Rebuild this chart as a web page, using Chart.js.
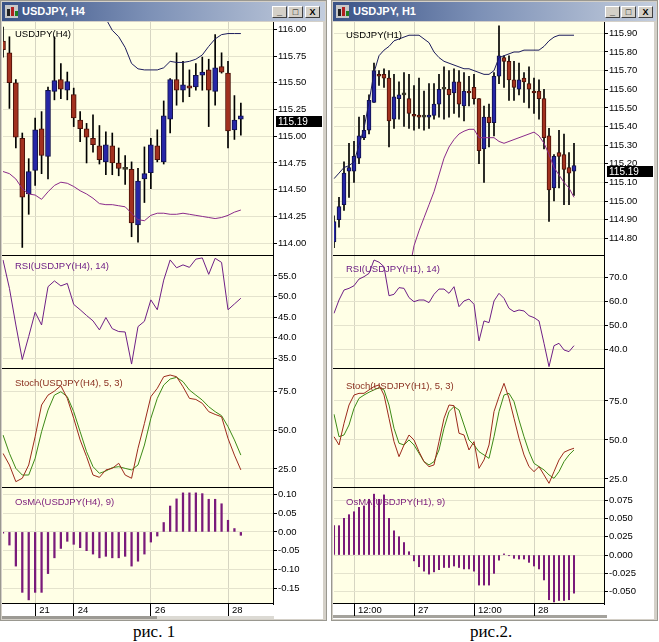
<!DOCTYPE html>
<html>
<head>
<meta charset="utf-8">
<title>USDJPY H4 / H1</title>
<script src="https://cdn.jsdelivr.net/npm/chart.js@4.4.1/dist/chart.umd.min.js"></script>
<style>
  body { margin: 0; width: 659px; height: 642px; background: #fff; position: relative; overflow: hidden; }
  .win { position: absolute; top: 0; width: 327px; height: 621px; background: #d4d0c8; box-sizing: border-box; border: 1px solid #9a9890; }
  .client { position: absolute; left: 1px; top: 21px; width: 321px; height: 597px; background: #fff; }
  .title { position: absolute; left: 1px; top: 1px; width: 323px; height: 19px;
           background: linear-gradient(90deg, #3a5286 0%, #7c90b6 45%, #c3cddd 100%); }
  .title .t { position: absolute; left: 20px; top: 3px; color: #fff; font: bold 11px "Liberation Sans", Arial, sans-serif; }
  .icon { position: absolute; left: 3px; top: 3px; width: 13px; height: 13px; background: #c8c8c8; }
  .icon i { position: absolute; bottom: 2px; width: 3px; }
  .btn { position: absolute; top: 4px; width: 15px; height: 12px; box-sizing: border-box; background: #d4d0c8;
         border: 1px solid; border-color: #fff #404040 #404040 #fff; font: bold 9px "Liberation Sans", Arial; color: #000;
         text-align: center; line-height: 10px; }
  .lbl { position: absolute; z-index: 5; font: 9.5px "Liberation Sans", Arial, sans-serif; white-space: nowrap; line-height: 11px; }
  .cap { position: absolute; top: 622px; font: 17px "Liberation Serif", "Times New Roman", serif; color: #000; }
  .scr { position: absolute; height: 3px; }
</style>
</head>
<body>

<div class="win" style="left:0px">
  <div class="title">
    <div class="icon"><i style="left:2px;height:7px;background:#222"></i><i style="left:6px;height:9px;background:#b02020"></i><i style="left:10px;height:5px;background:#208020"></i></div>
    <div class="t">USDJPY, H4</div>
    <div class="btn" style="left:270px">_</div>
    <div class="btn" style="left:286px">&#9633;</div>
    <div class="btn" style="left:303px">X</div>
  </div>
  <div class="client"></div>
</div>

<div class="win" style="left:331px">
  <div class="title">
    <div class="icon"><i style="left:2px;height:7px;background:#222"></i><i style="left:6px;height:9px;background:#b02020"></i><i style="left:10px;height:5px;background:#208020"></i></div>
    <div class="t">USDJPY, H1</div>
    <div class="btn" style="left:272px">_</div>
    <div class="btn" style="left:288px">&#9633;</div>
    <div class="btn" style="left:305px">X</div>
  </div>
  <div class="client"></div>
</div>

<div class="scr" style="left:2px;top:616px;width:155px;background:#9c9a94"></div>
<div class="scr" style="left:157px;top:616px;width:117px;background:#dcdad4"></div>
<div class="scr" style="left:333px;top:615px;width:274px;background:#a4a29c"></div>

<div class="cap" style="left:133px">рис. 1</div>
<div class="cap" style="left:470px">рис.2.</div>

<script>
// ---------- H4 window (left) ----------
const h4Slots = 43;
const h4DayIdx = [5, 11, 23, 35];
const h4DayTxt = ['21', '24', '26', '28'];

const h4Open = [115.89, 115.78, 115.50, 114.98, 114.46, 114.68, 115.07, 114.81, 115.42, 115.53,
  115.43, 115.39, 115.15, 115.07, 114.98, 114.91, 114.76, 114.91, 114.75, 114.69,
  114.69, 114.17, 114.60, 114.66, 114.91, 114.76, 115.16, 115.53, 115.43, 115.47,
  115.46, 115.57, 115.62, 115.42, 115.65, 115.59, 115.06, 115.16];
const h4High = [116.02, 115.93, 115.53, 115.03, 114.79, 115.17, 115.23, 115.46, 115.93, 115.68,
  115.60, 115.45, 115.23, 115.12, 115.20, 115.10, 115.04, 115.03, 114.89, 114.82,
  114.76, 114.70, 114.90, 114.98, 115.06, 115.33, 115.54, 115.78, 115.70, 115.62,
  115.68, 115.74, 115.72, 115.95, 115.78, 115.70, 115.38, 115.31];
const h4Low = [115.74, 115.26, 114.89, 113.96, 114.27, 114.54, 114.65, 114.60, 115.34, 115.35,
  115.34, 115.09, 114.95, 114.75, 114.85, 114.74, 114.64, 114.64, 114.63, 114.55,
  114.06, 114.01, 114.38, 114.51, 114.76, 114.74, 115.03, 115.29, 115.32, 115.37,
  115.43, 115.43, 115.09, 115.29, 115.59, 114.89, 114.97, 115.01];
const h4Close = [115.81, 115.50, 114.99, 114.43, 114.67, 115.06, 114.82, 115.43, 115.52, 115.44,
  115.51, 115.17, 115.07, 114.99, 114.92, 114.78, 114.92, 114.75, 114.70, 114.69,
  114.19, 114.58, 114.65, 114.92, 114.78, 115.19, 115.53, 115.43, 115.48, 115.45,
  115.57, 115.60, 115.43, 115.64, 115.60, 115.05, 115.15, 115.19];
const h4Upper = [null, null, null, null, null, null, null, null, null, null,
  null, null, null, null, null, null, 116.10, 115.99, 115.93, 115.83,
  115.68, 115.63, 115.62, 115.62, 115.62, 115.64, 115.70, 115.69, 115.69, 115.70,
  115.72, 115.76, 115.84, 115.91, 115.95, 115.96, 115.96, 115.96];
const h4Lower = [114.67, 114.65, 114.60, 114.51, 114.46, 114.45, 114.41, 114.48, 114.54, 114.57,
  114.56, 114.53, 114.49, 114.46, 114.42, 114.37, 114.36, 114.36, 114.35, 114.34,
  114.28, 114.22, 114.21, 114.26, 114.28, 114.28, 114.27, 114.27, 114.28, 114.27,
  114.26, 114.25, 114.24, 114.23, 114.24, 114.26, 114.29, 114.31];
const h4Rsi = [58.9, 52.0, 43.1, 34.7, 40.3, 46.2, 43.1, 52.4, 53.8, 52.6,
  53.2, 48.1, 46.8, 45.4, 44.1, 41.9, 44.9, 42.2, 41.5, 41.4,
  33.6, 42.7, 44.0, 49.2, 46.8, 54.0, 58.9, 57.0, 57.7, 57.1,
  59.1, 59.4, 55.4, 59.3, 58.3, 46.8, 48.2, 49.6];
const h4StochK = [35.1, 27.6, 16.8, 19.0, 27.6, 45.9, 66.4, 72.8, 75.4, 78.9,
  70.7, 57.8, 43.8, 33.0, 21.1, 19.6, 24.4, 25.4, 28.7, 21.1,
  19.0, 38.4, 54.5, 71.8, 77.2, 84.7, 85.8, 84.7, 78.2, 70.7,
  70.0, 67.5, 62.1, 60.3, 58.8, 44.8, 34.0, 24.4];
const h4StochD = [47.0, 35.1, 25.4, 21.1, 21.1, 31.9, 49.1, 63.1, 72.8, 75.0,
  71.8, 62.1, 49.1, 36.2, 26.5, 22.2, 23.7, 25.9, 26.5, 25.4,
  24.4, 27.6, 40.5, 57.8, 70.7, 79.3, 83.2, 84.3, 81.5, 76.1,
  72.8, 69.6, 65.3, 62.1, 59.5, 52.4, 43.8, 34.0];
const h4Osma = [-0.003, -0.035, -0.091, -0.161, -0.181, -0.161, -0.161, -0.111, -0.069, -0.044,
  -0.025, -0.033, -0.042, -0.050, -0.059, -0.069, -0.065, -0.069, -0.069, -0.065,
  -0.091, -0.078, -0.059, -0.027, -0.011, 0.025, 0.069, 0.088, 0.104, 0.104,
  0.104, 0.102, 0.087, 0.087, 0.075, 0.031, 0.009, -0.009];

// ---------- H1 window (right) ----------
const h1Slots = 55;
const h1DayIdx = [4, 16, 28, 40];
const h1DayTxt = ['12:00', '27', '12:00', '28'];

const h1Open = [114.78, 114.90, 114.98, 115.16, 115.16, 115.23, 115.34, 115.38, 115.53, 115.68,
  115.68, 115.66, 115.44, 115.55, 115.57, 115.55, 115.46, 115.455, 115.45, 115.45,
  115.46, 115.52, 115.60, 115.60, 115.58, 115.64, 115.51, 115.59, 115.61, 115.55,
  115.28, 115.45, 115.42, 115.67, 115.77, 115.75, 115.65, 115.60, 115.66, 115.63,
  115.59, 115.59, 115.55, 115.35, 115.07, 115.26, 115.25, 115.18, 115.16];
const h1High = [114.92, 115.02, 115.21, 115.31, 115.32, 115.45, 115.46, 115.57, 115.74, 115.70,
  115.71, 115.70, 115.68, 115.64, 115.69, 115.68, 115.62, 115.66, 115.59, 115.63,
  115.63, 115.68, 115.72, 115.70, 115.71, 115.70, 115.69, 115.67, 115.68, 115.55,
  115.51, 115.52, 115.69, 115.94, 115.78, 115.78, 115.75, 115.74, 115.69, 115.72,
  115.66, 115.65, 115.60, 115.39, 115.25, 115.38, 115.36, 115.26, 115.31];
const h1Low = [114.75, 114.86, 114.95, 115.02, 115.10, 115.20, 115.33, 115.36, 115.53, 115.62,
  115.61, 115.29, 115.39, 115.44, 115.40, 115.39, 115.38, 115.39, 115.38, 115.39,
  115.44, 115.45, 115.44, 115.45, 115.47, 115.45, 115.43, 115.51, 115.52, 115.20,
  115.10, 115.29, 115.35, 115.63, 115.61, 115.54, 115.54, 115.57, 115.53, 115.50,
  115.47, 115.44, 115.28, 114.89, 115.00, 115.07, 114.98, 114.98, 115.03];
const h1Close = [114.89, 114.97, 115.15, 115.18, 115.24, 115.35, 115.38, 115.54, 115.70, 115.67,
  115.66, 115.43, 115.56, 115.57, 115.57, 115.47, 115.455, 115.45, 115.45, 115.46,
  115.52, 115.60, 115.60, 115.57, 115.64, 115.52, 115.59, 115.58, 115.55, 115.27,
  115.45, 115.42, 115.67, 115.78, 115.75, 115.65, 115.61, 115.65, 115.64, 115.60,
  115.58, 115.55, 115.34, 115.06, 115.24, 115.24, 115.17, 115.15, 115.19];
const h1Upper = [115.12, 115.15, 115.18, 115.19, 115.21, 115.30, 115.39, 115.53, 115.69, 115.78,
  115.81, 115.83, 115.86, 115.87, 115.88, 115.89, 115.89, 115.89, 115.87, 115.85,
  115.80, 115.77, 115.75, 115.74, 115.73, 115.72, 115.71, 115.71, 115.70, 115.69,
  115.68, 115.68, 115.70, 115.77, 115.78, 115.79, 115.80, 115.80, 115.81, 115.81,
  115.81, 115.81, 115.83, 115.86, 115.88, 115.89, 115.89, 115.89, 115.89];
const h1Lower = [null, null, null, null, null, null, null, null, null, null,
  null, null, null, null, null, 114.62, 114.76, 114.84, 114.91, 114.98,
  115.05, 115.14, 115.23, 115.29, 115.33, 115.36, 115.375, 115.385, 115.385, 115.34,
  115.34, 115.34, 115.34, 115.32, 115.31, 115.32, 115.33, 115.34, 115.35, 115.36,
  115.37, 115.35, 115.31, 115.25, 115.18, 115.14, 115.10, 115.07, 115.02];
const h1Rsi = [55.0, 60.6, 64.8, 65.5, 66.6, 69.4, 70.4, 71.8, 77.4, 76.5,
  74.6, 62.4, 63.0, 65.8, 65.5, 61.6, 59.9, 60.6, 60.6, 59.5,
  63.0, 65.2, 65.2, 63.4, 66.2, 57.8, 60.2, 61.0, 58.8, 43.4,
  51.8, 51.1, 60.2, 63.4, 61.3, 57.1, 55.7, 56.4, 56.0, 54.0,
  53.2, 51.8, 42.4, 32.6, 41.4, 42.4, 39.6, 38.9, 41.4];
const h1StochK = [52.1, 46.8, 60.7, 72.4, 78.8, 79.9, 79.9, 82.1, 84.2, 85.3,
  78.8, 63.9, 48.9, 39.3, 46.8, 53.2, 50.0, 42.5, 36.1, 32.9,
  34.0, 48.9, 63.9, 72.4, 72.0, 54.3, 53.2, 43.6, 48.9, 31.8,
  37.2, 46.8, 68.2, 77.8, 86.3, 76.7, 63.9, 51.1, 40.4, 32.9,
  29.7, 32.9, 27.6, 22.2, 29.7, 37.2, 42.1, 43.6, 44.7];
const h1StochD = [66.5, 52.1, 53.2, 59.6, 70.3, 76.7, 78.8, 80.6, 82.1, 83.5,
  82.1, 72.4, 57.5, 47.9, 46.8, 50.0, 46.8, 41.5, 36.1, 34.0,
  36.1, 43.6, 57.5, 68.2, 71.4, 69.2, 59.6, 50.0, 46.8, 42.5,
  40.4, 38.2, 52.1, 68.2, 78.8, 79.9, 74.6, 62.8, 52.1, 42.5,
  35.0, 32.9, 30.8, 27.6, 25.4, 29.7, 36.1, 40.4, 43.6];
const h1Osma = [0.040, 0.040, 0.050, 0.055, 0.059, 0.065, 0.067, 0.076, 0.083, 0.076,
  0.082, 0.050, 0.033, 0.025, 0.017, 0.0045, -0.008, -0.016, -0.022, -0.026,
  -0.023, -0.020, -0.017, -0.017, -0.015, -0.017, -0.019, -0.019, -0.022, -0.041,
  -0.041, -0.041, -0.025, -0.007, 0.0015, -0.001, -0.0045, -0.0055, -0.0055, -0.010,
  -0.015, -0.019, -0.034, -0.061, -0.064, -0.062, -0.062, -0.061, -0.052];

// ---------- styles ----------
const PLOT_BG = '#ffffe6';
const GRID_H = '#e4e3cd';
const GRID_V = '#d6d5c2';
const UP = '#2626a6', UP_EDGE = '#10104a';
const DN = '#a2311f', DN_EDGE = '#4a1008';
const UPPER_C = '#1c1c5c', LOWER_C = '#8a2a8a';
const RSI_C = '#6e1f86', K_C = '#9c2a1c', D_C = '#3d8a16', OSMA_C = '#7a1a7a';

Chart.defaults.font.family = '"Liberation Sans", Arial, sans-serif';
Chart.defaults.font.size = 9.5;
Chart.defaults.color = '#000';

function slotLabels(count, idx, txt) {
  const a = new Array(count).fill('');
  idx.forEach((k, j) => { a[k] = txt[j]; });
  return a;
}

const plotFrame = {
  id: 'plotFrame',
  beforeDraw(chart) {
    const { ctx, chartArea: a } = chart;
    ctx.save();
    ctx.fillStyle = PLOT_BG;
    ctx.fillRect(0, a.top, a.right, a.height);
    ctx.restore();
  },
  afterDraw(chart) {
    const { ctx, chartArea: a } = chart;
    ctx.save();
    ctx.strokeStyle = '#000';
    ctx.lineWidth = 1;
    ctx.beginPath();
    ctx.moveTo(0, a.bottom - 0.5);
    ctx.lineTo(a.right, a.bottom - 0.5);
    ctx.stroke();
    ctx.restore();
  }
};

function priceTag(value) {
  return {
    id: 'priceTag',
    afterDraw(chart) {
      const { ctx, chartArea: a } = chart;
      const y = Math.round(chart.scales.y.getPixelForValue(value));
      ctx.save();
      ctx.fillStyle = '#000';
      ctx.fillRect(a.right + 3, y, 46, 11);
      ctx.fillStyle = '#fff';
      ctx.font = '10px "Liberation Sans", Arial, sans-serif';
      ctx.textBaseline = 'middle';
      ctx.fillText(value.toFixed(2), a.right + 5, y + 6);
      ctx.restore();
    }
  };
}

function xAxis(showX) {
  const isDay = ctx => ctx.tick && ctx.tick.label;
  return {
    type: 'category',
    offset: false,
    grid: {
      offset: false,
      color: ctx => isDay(ctx) ? GRID_V : 'rgba(0,0,0,0)',
      drawTicks: showX,
      tickLength: 12,
      tickColor: ctx => isDay(ctx) ? '#000' : 'rgba(0,0,0,0)'
    },
    border: { display: false },
    ticks: { display: showX, autoSkip: false, maxRotation: 0, align: 'start', labelOffset: 4, padding: -11, color: '#000' },
    afterFit: s => { s.height = showX ? 15 : 0; s.paddingLeft = 0; s.paddingRight = 0; }
  };
}

function yAxis(min, max, step, digits) {
  return {
    position: 'right',
    min: min,
    max: max,
    grid: { color: GRID_H, tickLength: 4, tickColor: '#000' },
    border: { display: true, color: '#000' },
    ticks: {
      stepSize: step, includeBounds: false, maxTicksLimit: 30, autoSkip: false,
      padding: 1, color: '#000', callback: v => v.toFixed(digits)
    },
    afterFit: s => { s.width = 50; s.paddingTop = 0; s.paddingBottom = 0; }
  };
}

function options(showX, y) {
  return {
    responsive: false,
    animation: false,
    events: [],
    layout: { padding: { left: 1, right: 0, top: 0, bottom: 0 } },
    plugins: { legend: { display: false }, tooltip: { enabled: false } },
    scales: { x: xAxis(showX), y: yAxis(y[0], y[1], y[2], y[3]) }
  };
}

function canvasAt(x, y, h) {
  const c = document.createElement('canvas');
  c.width = 321;
  c.height = h;
  c.style.position = 'absolute';
  c.style.left = x + 'px';
  c.style.top = y + 'px';
  document.body.appendChild(c);
  return c;
}

function label(x, y, text, color) {
  const d = document.createElement('div');
  d.className = 'lbl';
  d.style.left = x + 'px';
  d.style.top = y + 'px';
  d.style.color = color;
  d.textContent = text;
  document.body.appendChild(d);
}

function candleSets(o, h, l, c, bodyW) {
  const flat = i => Math.abs(c[i] - o[i]) < 0.004;
  return [
    {
      type: 'bar', order: 2, grouped: false, barThickness: bodyW, minBarLength: 2,
      data: o.map((v, i) => [v, c[i]]),
      backgroundColor: ctx => flat(ctx.dataIndex) ? '#3a3a2a' : (c[ctx.dataIndex] > o[ctx.dataIndex] ? UP : DN),
      borderColor: ctx => flat(ctx.dataIndex) ? '#3a3a2a' : (c[ctx.dataIndex] > o[ctx.dataIndex] ? UP_EDGE : DN_EDGE),
      borderWidth: 1, borderSkipped: false
    },
    {
      type: 'bar', order: 3, grouped: false, barThickness: 1,
      data: l.map((v, i) => [v, h[i]]),
      backgroundColor: '#000'
    }
  ];
}

function lineSet(data, color, order) {
  return { type: 'line', order: order, data: data, borderColor: color, borderWidth: 1,
           pointRadius: 0, tension: 0, fill: false, spanGaps: false };
}

function buildWindow(X, w) {
  const labels = slotLabels(w.slots, w.dayIdx, w.dayTxt);
  const cx = X + 2;
  const last = w.close[w.close.length - 1];

  new Chart(canvasAt(cx, 22, 234), {
    type: 'bar',
    data: { labels: labels, datasets: [
      lineSet(w.upper, UPPER_C, 0),
      lineSet(w.lower, LOWER_C, 1),
      ...candleSets(w.open, w.high, w.low, w.close, w.bodyW)
    ] },
    options: options(false, w.mainY),
    plugins: [plotFrame, priceTag(last)]
  });

  new Chart(canvasAt(cx, 256, 113), {
    type: 'line',
    data: { labels: labels, datasets: [lineSet(w.rsi, RSI_C, 0)] },
    options: options(false, w.rsiY),
    plugins: [plotFrame]
  });

  new Chart(canvasAt(cx, 369, 119), {
    type: 'line',
    data: { labels: labels, datasets: [lineSet(w.k, K_C, 0), lineSet(w.d, D_C, 1)] },
    options: options(false, w.stochY),
    plugins: [plotFrame]
  });

  new Chart(canvasAt(cx, 488, 131), {
    type: 'bar',
    data: { labels: labels, datasets: [{ data: w.osma, backgroundColor: OSMA_C, barThickness: w.osmaW, grouped: false }] },
    options: options(true, w.osmaY),
    plugins: [plotFrame]
  });

  label(X + 15, w.lblY[0], 'USDJPY(' + w.tf + ')', '#000');
  label(X + 15, w.lblY[1], 'RSI(USDJPY(' + w.tf + '), 14)', RSI_C);
  label(X + 15, w.lblY[2], 'Stoch(USDJPY(' + w.tf + '), 5, 3)', '#8a3020');
  label(X + 15, w.lblY[3], 'OsMA(USDJPY(' + w.tf + '), 9)', OSMA_C);
}

buildWindow(0, {
  tf: 'H4', slots: h4Slots, dayIdx: h4DayIdx, dayTxt: h4DayTxt, bodyW: 5, osmaW: 1.6,
  open: h4Open, high: h4High, low: h4Low, close: h4Close, upper: h4Upper, lower: h4Lower,
  rsi: h4Rsi, k: h4StochK, d: h4StochD, osma: h4Osma,
  mainY: [113.88, 116.068, 0.25, 2],
  rsiY: [32.4, 59.86, 5, 1],
  stochY: [12.7, 89.7, 25, 1],
  osmaY: [-0.192, 0.117, 0.05, 2],
  lblY: [28, 260, 377, 496]
});

buildWindow(331, {
  tf: 'H1', slots: h1Slots, dayIdx: h1DayIdx, dayTxt: h1DayTxt, bodyW: 4, osmaW: 1.4,
  open: h1Open, high: h1High, low: h1Low, close: h1Close, upper: h1Upper, lower: h1Lower,
  rsi: h1Rsi, k: h1StochK, d: h1StochD, osma: h1Osma,
  mainY: [114.705, 115.961, 0.1, 2],
  rsiY: [31.6, 79.1, 10, 1],
  stochY: [19.2, 95.5, 25, 1],
  osmaY: [-0.0668, 0.0914, 0.025, 3],
  lblY: [29, 263, 380, 496]
});
</script>
</body>
</html>
